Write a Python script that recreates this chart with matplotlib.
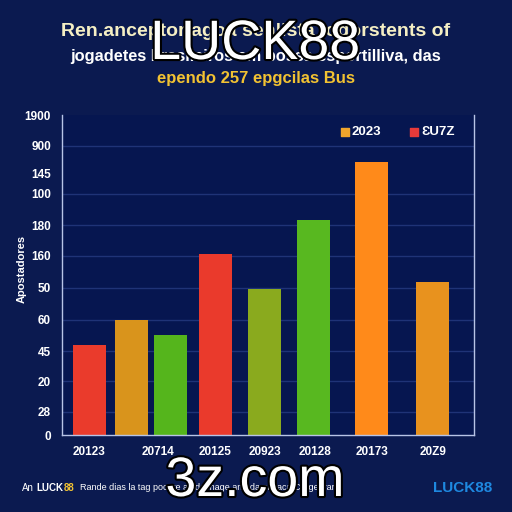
import matplotlib.pyplot as plt
import matplotlib.patheffects as pe

# bar values (in chart units, axis runs 0..320)
values = [90, 115, 100, 181, 146, 215, 273, 153]
bar_colors = ['#ea3b2c', '#d9941c', '#55b51c', '#ea3a2c',
              '#8aaa1e', '#58b820', '#ff8a1a', '#e8921e']

# odd tick labels as they appear in the picture
ytick_labels = ['0', '28', '20', '45', '60', '50', '160', '180',
                '100', '145', '900', '1900']
xtick_labels = ['20123', '20714', '20125', '20923', '20128', '20173', '20Z9']
legend_labels = ['2023', 'ƐU7Z']
legend_colors = ['#f0a52c', '#e83a3a']

# layout (positions in axis units)
bar_x = [89, 131.5, 171, 215.5, 265, 314, 372, 432.5]
bar_w = 33
ytick_pos = [0, 23, 54, 84, 115, 147, 179, 210, 241, 261, 289, 320]
xtick_pos = [89, 158, 215, 265, 315, 372, 433]

bg = '#0b1a50'
font = 'Liberation Sans'

fig = plt.figure(figsize=(5.12, 5.12), dpi=100)
fig.patch.set_facecolor(bg)
ax = fig.add_axes([62 / 512, 77 / 512, 412 / 512, 320 / 512])
ax.set_facecolor('#061650')
ax.set_xlim(62, 474)
ax.set_ylim(0, 320)

# gridlines
for y in ytick_pos[1:]:
    if y in (261, 320):
        continue
    ax.axhline(y, color='#1f3377', lw=1, zorder=0)

ax.bar(bar_x, values, width=bar_w, color=bar_colors, zorder=2)

ax.set_yticks(ytick_pos)
ax.set_yticklabels(ytick_labels)
ax.set_xticks(xtick_pos)
ax.set_xticklabels(xtick_labels)
ax.tick_params(length=0, colors='white', labelsize=8.5, pad=8)
for lab in ax.get_xticklabels() + ax.get_yticklabels():
    lab.set_fontfamily(font)
    lab.set_fontweight('bold')

for s in ['left', 'bottom', 'right']:
    ax.spines[s].set_color('#b8c4e6')
    ax.spines[s].set_linewidth(1)
ax.spines['top'].set_visible(False)

ax.set_ylabel('Apostadores', color='white', fontsize=8, fontweight='bold',
              fontfamily=font)
ax.yaxis.set_label_coords(-0.085, 0.52)

# legend
ax.scatter([345, 414], [303, 303], marker='s', s=40, c=legend_colors,
           zorder=3, clip_on=False)
ax.text(352, 303, legend_labels[0], color='white', fontsize=9.5,
        fontweight='bold', fontfamily=font, va='center')
ax.text(421, 303, legend_labels[1], color='white', fontsize=9.5,
        fontweight='bold', fontfamily=font, va='center')

# title
fig.text(0.5, 1 - 31 / 512, 'Ren.anceptor|agoa sen|ista jogorstents of',
         color='#f5efc4', fontsize=14, fontweight='bold', fontfamily=font,
         ha='center', va='center')
fig.text(0.5, 1 - 56 / 512, 'jogadetes brasileiros em bossa esportilliva, das',
         color='white', fontsize=11.8, fontweight='bold', fontfamily=font,
         ha='center', va='center')
fig.text(0.5, 1 - 78 / 512, 'ependo 257 epgcilas Bus',
         color='#f2c232', fontsize=12, fontweight='bold', fontfamily=font,
         ha='center', va='center')

outline = [pe.withStroke(linewidth=3, foreground='black')]
fig.text(255 / 512, 1 - 45 / 512, 'LUCK88', color='white', fontsize=40,
         fontfamily=font, ha='center', va='center', path_effects=outline)

# footer
fig.text(22 / 512, 1 - 488 / 512, 'An', color='white', fontsize=7,
         fontfamily=font, va='center')
fig.text(36 / 512, 1 - 488 / 512, 'LUCK', color='white', fontsize=7,
         fontweight='bold', fontfamily=font, va='center')
fig.text(64 / 512, 1 - 488 / 512, '88', color='#f2c232', fontsize=7,
         fontweight='bold', fontfamily=font, va='center')
fig.text(80 / 512, 1 - 488 / 512,
         'Rande dias la tag pocpre as dachage and da patlaca Cargenrar.',
         color='white', fontsize=6.5, fontfamily=font, va='center')
fig.text(492 / 512, 1 - 488 / 512, 'LUCK88', color='#1e88e0', fontsize=11,
         fontweight='bold', fontfamily=font, ha='right', va='center')

fig.text(255 / 512, 1 - 482 / 512, '3z.com', color='white', fontsize=40,
         fontfamily=font, ha='center', va='center', path_effects=outline)

fig.savefig('out.png', dpi=100, facecolor=bg)
